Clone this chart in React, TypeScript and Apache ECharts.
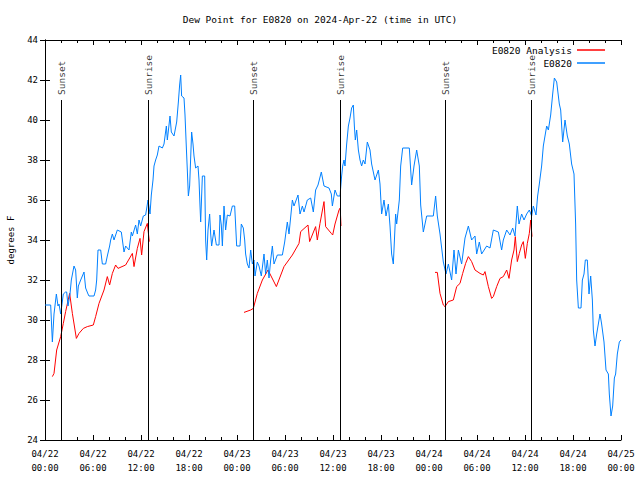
import React, { useEffect, useRef } from "react";
import * as echarts from "echarts";

// hours since 2024-04-22 00:00 UTC
const blueHours = [
  0.0, 0.71, 0.92, 1.125, 1.42, 1.625, 1.75, 1.96, 2.29, 2.58, 2.71, 2.875, 3.125, 3.29, 3.625, 3.83, 4.04, 4.17, 4.46, 4.67,
  4.875, 5.08, 5.375, 5.5, 6.125, 6.33, 6.46, 6.625, 6.96, 7.17, 7.58, 7.79, 8.08, 8.21, 8.42, 8.625, 9.04, 9.54, 9.875, 10.08,
  10.5, 10.79, 10.92, 11.33, 11.54, 11.75, 11.96, 12.29, 12.58, 12.875, 13.125, 13.29, 13.5, 13.625, 13.83, 14.04, 14.25, 14.67, 14.875, 15.17,
  15.29, 15.625, 15.79, 16.125, 16.46, 16.67, 16.83, 16.96, 17.08, 17.375, 17.5, 17.67, 17.79, 17.92, 18.08, 18.33, 18.5, 18.625, 18.83, 19.125,
  19.25, 19.375, 19.46, 19.67, 19.96, 20.08, 20.21, 20.375, 20.58, 20.71, 20.83, 21.125, 21.42, 21.75, 21.875, 22.04, 22.17, 22.375, 22.58, 22.79,
  23.125, 23.42, 23.71, 23.96, 24.375, 24.54, 24.79, 24.96, 25.08, 25.29, 25.5, 25.71, 25.92, 26.125, 26.25, 26.54, 26.75, 27.04, 27.375, 27.58,
  27.79, 28.0, 28.21, 28.42, 28.625, 29.04, 29.67, 29.96, 30.29, 30.5, 30.92, 31.125, 31.625, 31.875, 32.17, 32.375, 32.79, 33.21, 33.54, 33.83,
  34.125, 34.54, 34.875, 35.5, 35.79, 35.92, 36.25, 36.54, 36.875, 37.08, 37.21, 37.375, 37.5, 37.71, 37.92, 38.125, 38.33, 38.54, 38.67, 38.79,
  38.96, 39.17, 39.375, 39.58, 39.79, 40.0, 40.29, 40.625, 40.83, 41.25, 41.67, 41.875, 42.08, 42.375, 42.625, 42.92, 43.125, 43.33, 43.54, 43.83,
  43.96, 44.29, 44.46, 44.71, 45.54, 45.83, 46.125, 46.46, 46.79, 46.96, 47.29, 47.71, 48.54, 48.83, 49.04, 49.375, 49.79, 50.125, 50.42, 50.83,
  51.125, 51.375, 51.67, 52.08, 52.5, 52.92, 53.33, 53.75, 53.96, 54.29, 54.58, 55.21, 55.625, 56.04, 56.67, 57.08, 57.29, 57.71, 58.125, 58.46,
  58.75, 59.04, 59.25, 59.58, 59.875, 60.21, 60.54, 60.83, 61.04, 61.375, 61.58, 61.79, 62.08, 62.29, 62.71, 62.92, 63.21, 63.46, 63.67, 63.96,
  64.29, 64.46, 64.71, 65.0, 65.29, 65.54, 65.83, 66.125, 66.33, 66.46, 66.67, 67.0, 67.17, 67.375, 67.54, 67.79, 68.0, 68.21, 68.42, 68.54,
  68.75, 68.96, 69.375, 69.58, 69.875, 70.125, 70.42, 70.54, 70.75, 70.96, 71.17, 71.33, 71.54, 71.79, 72.0,
];
const blueValues = [
  30.75, 30.75, 28.9, 30.3, 31.3, 30.7, 30.8, 30.3, 31.3, 31.4, 31.4, 30.7, 31.3, 32.0, 32.7, 32.5, 31.1, 31.7, 32.0, 32.2,
  32.4, 31.6, 31.3, 31.2, 31.2, 31.5, 32.0, 33.5, 33.5, 32.8, 32.8, 33.2, 33.7, 34.0, 34.3, 34.0, 34.5, 34.4, 33.4, 33.7,
  33.5, 34.4, 34.2, 34.75, 34.3, 35.0, 34.7, 35.2, 35.25, 36.0, 35.3, 36.25, 37.0, 37.7, 38.0, 38.25, 38.7, 38.6, 38.8, 39.7,
  39.0, 40.2, 39.4, 39.2, 39.9, 40.9, 41.75, 42.25, 41.2, 41.1, 40.25, 38.6, 37.5, 36.2, 36.7, 39.4, 38.8, 38.2, 37.6, 37.7,
  37.0, 35.7, 34.9, 37.2, 37.2, 34.0, 33.0, 34.5, 35.3, 34.3, 33.7, 34.5, 33.75, 33.75, 35.25, 34.75, 33.7, 35.7, 34.5, 35.25,
  35.2, 35.7, 35.7, 33.7, 33.7, 34.8, 34.6, 34.0, 33.3, 32.8, 32.6, 33.5, 32.8, 33.0, 32.2, 32.9, 32.7, 32.2, 33.3, 32.3,
  33.0, 32.1, 33.0, 33.7, 32.8, 33.25, 33.25, 33.9, 34.9, 34.3, 36.0, 35.7, 36.25, 35.3, 35.7, 35.4, 36.0, 36.1, 35.4, 36.5,
  36.75, 37.4, 36.7, 36.6, 36.3, 35.7, 36.5, 36.2, 36.2, 37.2, 37.7, 38.0, 37.7, 38.8, 39.7, 40.1, 40.6, 40.75, 39.7, 39.0,
  39.5, 38.5, 38.0, 37.7, 38.0, 37.8, 38.9, 38.5, 37.8, 37.0, 37.5, 36.8, 35.3, 36.0, 35.2, 35.8, 34.7, 33.3, 32.8, 35.3,
  34.8, 36.0, 37.7, 38.6, 38.6, 36.75, 37.7, 38.5, 37.7, 35.75, 34.4, 35.2, 35.2, 36.2, 35.2, 34.3, 32.9, 32.3, 32.8, 32.0,
  33.5, 32.3, 33.5, 32.8, 34.1, 34.7, 34.0, 34.2, 33.3, 33.9, 33.3, 33.7, 33.6, 34.5, 34.4, 33.5, 34.0, 34.5, 34.25, 34.6,
  34.2, 35.7, 34.8, 35.3, 35.0, 35.3, 35.5, 35.2, 35.7, 35.25, 36.2, 36.8, 37.7, 38.7, 39.7, 39.5, 40.25, 41.3, 42.1, 41.9,
  40.8, 40.5, 38.9, 40.0, 39.2, 38.8, 37.8, 37.3, 34.8, 32.0, 30.6, 30.6, 32.0, 32.3, 33.0, 33.0, 31.3, 32.2, 31.0, 29.5,
  28.7, 29.3, 30.3, 29.8, 28.9, 27.5, 27.3, 26.3, 25.2, 25.7, 27.1, 27.3, 28.3, 28.9, 29.0,
];

const redHours = [
  0.92, 1.125, 1.46, 1.96, 2.29, 2.58, 3.08, 3.42, 3.92, 4.25, 4.79, 5.29, 6.04, 6.33, 6.75, 7.375, 7.79, 8.08, 8.42, 8.83,
  9.125, 10.08, 10.92, 11.125, 11.54, 11.875, 12.08, 12.375, 12.79, 13.04,
  18.0,
  24.875, 25.71, 26.04, 26.54, 27.17, 27.875, 28.92, 29.875, 30.92, 31.75, 31.96, 32.875, 33.08, 33.83, 34.04, 34.375, 34.875, 35.08, 35.79,
  35.96, 36.25, 36.75, 36.9, 37.0,
  42.0,
  48.75, 49.04, 49.375, 49.79, 50.0, 50.42, 51.04, 51.46, 51.875, 52.21, 52.58, 52.92, 53.33, 53.75, 54.375, 54.79, 55.0, 55.42, 55.83, 56.04,
  56.46, 56.875, 57.29, 57.71, 58.0, 58.33, 58.625, 58.79, 59.04, 59.29, 59.58, 59.79, 60.04, 60.29, 60.54, 60.71, 60.875,
];
const redValues: (number | null)[] = [
  27.17, 27.33, 28.5, 29.17, 29.83, 30.42, 31.33, 30.33, 29.08, 29.33, 29.58, 29.67, 29.75, 30.17, 30.83, 31.5, 32.17, 31.75, 32.33, 32.75,
  32.58, 32.75, 33.33, 32.67, 33.58, 34.08, 33.25, 34.42, 34.83, 33.92,
  null,
  30.38, 30.5, 30.58, 31.33, 32.0, 32.5, 31.67, 32.67, 33.25, 33.83, 34.42, 34.75, 33.92, 34.67, 34.0, 34.83, 35.92, 34.67, 34.33,
  34.25, 34.8, 35.5, 35.6, 34.7,
  null,
  32.38, 32.38, 31.33, 30.75, 30.67, 30.92, 31.0, 31.67, 31.83, 32.33, 32.83, 33.17, 32.92, 32.5, 32.33, 32.25, 32.42, 31.67, 31.08, 31.17,
  31.67, 32.08, 32.17, 32.5, 32.08, 33.0, 33.5, 34.17, 32.92, 33.33, 33.75, 33.92, 33.08, 33.83, 34.33, 35.0, 34.17,
];

const sunTimes = [2.05, 12.92, 26.04, 36.96, 50.04, 60.79];
const sunLabels = ["Sunset", "Sunrise", "Sunset", "Sunrise", "Sunset", "Sunrise"];
const sunLineTop = 41;

const yMin = 24;
const yMax = 44;
const xMin = 0;
const xMax = 72;
const startDay = 22;

const FONT = "'DejaVu Sans Mono', 'Liberation Mono', monospace";

function fmtX(v: number): string {
  const day = startDay + Math.floor(v / 24);
  const hh = Math.round(v % 24);
  const p = (n: number) => (n < 10 ? "0" + n : "" + n);
  return "04/" + p(day) + "\n" + p(hh) + ":00";
}

export default function App() {
  const ref = useRef<HTMLDivElement>(null);
  useEffect(() => {
    if (!ref.current) return;
    const chart = echarts.init(ref.current, undefined, { renderer: "svg" });
    const axisLine = { show: true, lineStyle: { color: "#000", width: 1 } };
    const tick = { show: true, inside: true, length: 5, lineStyle: { color: "#000" } };
    const minor = { show: true, splitNumber: 3, length: 3, lineStyle: { color: "#000" } };
    chart.setOption({
      animation: false,
      backgroundColor: "#fff",
      title: {
        text: "Dew Point for E0820 on 2024-Apr-22 (time in UTC)",
        left: "center",
        top: 9,
        textStyle: { fontFamily: FONT, fontSize: 9.5, fontWeight: "normal", color: "#000" },
      },
      legend: {
        orient: "vertical",
        right: 30,
        top: 39,
        align: "right",
        itemWidth: 28,
        itemHeight: 1.5,
        itemGap: 1,
        data: [
          { name: "E0820 Analysis", icon: "rect" },
          { name: "E0820", icon: "rect" },
        ],
        textStyle: { fontFamily: FONT, fontSize: 9.5, color: "#000", width: 84, align: "right", lineHeight: 12 },
      },
      grid: { left: 45, right: 19, top: 40, bottom: 40, containLabel: false, outerBoundsMode: "none" },
      xAxis: [
        {
          type: "value",
          min: xMin,
          max: xMax,
          interval: 6,
          axisLine,
          axisTick: tick,
          minorTick: minor,
          splitLine: { show: false },
          axisLabel: {
            formatter: fmtX,
            fontFamily: FONT,
            fontSize: 9,
            color: "#000",
            margin: 7,
            lineHeight: 14,
          },
        },
        {
          type: "value",
          position: "top",
          min: xMin,
          max: xMax,
          interval: 6,
          axisLine,
          axisTick: tick,
          minorTick: minor,
          splitLine: { show: false },
          axisLabel: { show: false },
        },
      ],
      yAxis: [
        {
          type: "value",
          min: yMin,
          max: yMax,
          interval: 2,
          name: "degrees F",
          nameLocation: "middle",
          nameRotate: 90,
          nameGap: 30,
          nameTextStyle: { fontFamily: FONT, fontSize: 9, color: "#000" },
          axisLine,
          axisTick: tick,
          splitLine: { show: false },
          axisLabel: { fontFamily: FONT, fontSize: 9, color: "#000", margin: 7 },
        },
        {
          type: "value",
          position: "right",
          min: yMin,
          max: yMax,
          interval: 2,
          axisLine,
          axisTick: tick,
          splitLine: { show: false },
          axisLabel: { show: false },
        },
      ],
      series: [
        {
          name: "E0820 Analysis",
          type: "line",
          xAxisIndex: 0,
          yAxisIndex: 0,
          data: redHours.map((h, i) => [h, redValues[i] === null ? "-" : redValues[i]]),
          showSymbol: false,
          symbol: "none",
          connectNulls: false,
          lineStyle: { color: "#ff0000", width: 1 },
          itemStyle: { color: "#ff0000" },
        },
        {
          name: "E0820",
          type: "line",
          xAxisIndex: 0,
          yAxisIndex: 0,
          data: blueHours.map((h, i) => [h, blueValues[i]]),
          showSymbol: false,
          symbol: "none",
          lineStyle: { color: "#0080ff", width: 1 },
          itemStyle: { color: "#0080ff" },
        },
        {
          name: "sun",
          type: "scatter",
          xAxisIndex: 0,
          yAxisIndex: 0,
          symbolSize: 0,
          silent: true,
          data: sunTimes.map((t, i) => ({
            value: [t, sunLineTop],
            label: { formatter: sunLabels[i] },
          })),
          label: {
            show: true,
            position: "top",
            distance: 5,
            rotate: 90,
            align: "left",
            verticalAlign: "middle",
            fontFamily: FONT,
            fontSize: 9.5,
            color: "#000",
          },
          markLine: {
            silent: true,
            symbol: "none",
            label: { show: false },
            lineStyle: { color: "#000", width: 1, type: "solid" },
            data: sunTimes.map((t) => [
              { coord: [t, sunLineTop] },
              { coord: [t, yMin] },
            ]),
          },
        },
      ],
    });
    return () => chart.dispose();
  }, []);
  return (
    <div
      ref={ref}
      style={{ position: "fixed", left: 0, top: 0, width: 640, height: 480 }}
    />
  );
}
